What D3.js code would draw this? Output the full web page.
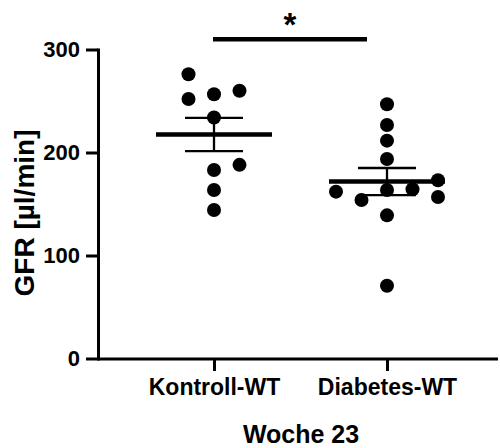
<!DOCTYPE html>
<html>
<head>
<meta charset="utf-8">
<script src="https://cdn.jsdelivr.net/npm/d3@7"></script>
<style>
  body { margin: 0; background: #fff; }
  text { font-family: "Liberation Sans", Arial, sans-serif; font-weight: bold; fill: #000; }
</style>
</head>
<body>
<script>

var categories = ["Kontroll-WT", "Diabetes-WT"];

// GFR values
var kontrollValues = [276, 252, 256.5, 260, 234, 188, 183, 163.6, 144.2];
var diabetesValues = [246.8, 226.7, 211.5, 193.7, 173, 162, 163.6, 164.3, 156.8, 153.9, 139, 70.7];

// column slot of each dot in the scatter (how the dots are spread sideways)
var kontrollSlot = [-1, -1, 0, 1, 0, 1, 0, 0, 0];
var diabetesSlot = [0, 0, 0, 0, 2, -2, 0, 1, 2, -1, 0, 0];

var yTicks = [0, 100, 200, 300];
var yTitle = "GFR [µl/min]";
var xTitle = "Woche 23";
var sigLabel = "*";

var width = 500;
var height = 448;

var groups = [
    {name: categories[0], values: kontrollValues, slots: kontrollSlot},
    {name: categories[1], values: diabetesValues, slots: diabetesSlot}
];

//SCALES
var yScale = d3.scaleLinear()
    .domain([0, 300])
    .range([358.5, 49.5]);

var xScale = d3.scalePoint()
    .domain(categories)
    .range([214, 387]);

var slotWidth = 25.5;

var svg = d3.select("body").append("svg")
    .attr("width", width)
    .attr("height", height);

//AXES
var yAxis = d3.axisLeft(yScale)
    .tickValues(yTicks)
    .tickSize(12)
    .tickSizeOuter(0)
    .tickPadding(6);

var yG = svg.append("g")
    .attr("transform", "translate(98,0)")
    .call(yAxis);
yG.select(".domain").attr("stroke-width", 3).attr("stroke-linecap", "square");
yG.selectAll(".tick line").attr("stroke-width", 3);
yG.selectAll(".tick text").style("font-size", "22px").attr("fill", "#000");

var xAxis = d3.axisBottom(xScale)
    .tickSize(12)
    .tickSizeOuter(0)
    .tickPadding(8);

var xG = svg.append("g")
    .attr("transform", "translate(0,359)")
    .call(xAxis);
xG.select(".domain").remove();
xG.append("line")
    .attr("x1", 98).attr("x2", 498)
    .attr("stroke", "#000").attr("stroke-width", 3);
xG.selectAll(".tick line").attr("stroke-width", 3);
xG.selectAll(".tick text").style("font-size", "23px").attr("fill", "#000");

//TITLES
svg.append("text")
    .attr("transform", "translate(34,213) rotate(-90)")
    .attr("text-anchor", "middle")
    .style("font-size", "28px")
    .text(yTitle);

svg.append("text")
    .attr("x", 301)
    .attr("y", 443)
    .attr("text-anchor", "middle")
    .style("font-size", "25px")
    .text(xTitle);

//DOTS
var groupG = svg.selectAll(".group")
    .data(groups)
    .enter().append("g")
    .attr("class", "group");

groupG.selectAll("circle")
    .data(function(g){return g.values.map(function(v, i){return {name: g.name, value: v, slot: g.slots[i]};});})
    .enter().append("circle")
    .attr("cx", function(d){return xScale(d.name) + d.slot * slotWidth;})
    .attr("cy", function(d){return yScale(d.value);})
    .attr("r", 7)
    .attr("fill", "#000");

//MEAN + SEM
groupG.each(function(g){
    var mean = d3.mean(g.values);
    var sem = d3.deviation(g.values) / Math.sqrt(g.values.length);
    var cx = xScale(g.name);
    var sel = d3.select(this);

    sel.append("line")
        .attr("x1", cx).attr("x2", cx)
        .attr("y1", yScale(mean + sem)).attr("y2", yScale(mean - sem))
        .attr("stroke", "#000").attr("stroke-width", 2.3);
    [mean + sem, mean - sem].forEach(function(v){
        sel.append("line")
            .attr("x1", cx - 29).attr("x2", cx + 29)
            .attr("y1", yScale(v)).attr("y2", yScale(v))
            .attr("stroke", "#000").attr("stroke-width", 2.3);
    });
    sel.append("line")
        .attr("x1", cx - 58).attr("x2", cx + 58)
        .attr("y1", yScale(mean)).attr("y2", yScale(mean))
        .attr("stroke", "#000").attr("stroke-width", 4.7);
});

//SIGNIFICANCE
svg.append("line")
    .attr("x1", xScale(categories[0]) - 1)
    .attr("x2", 367)
    .attr("y1", 39.3).attr("y2", 39.3)
    .attr("stroke", "#000").attr("stroke-width", 4.5);

svg.append("text")
    .attr("x", 290)
    .attr("y", 36)
    .attr("text-anchor", "middle")
    .style("font-size", "33px")
    .text(sigLabel);

</script>
</body>
</html>
